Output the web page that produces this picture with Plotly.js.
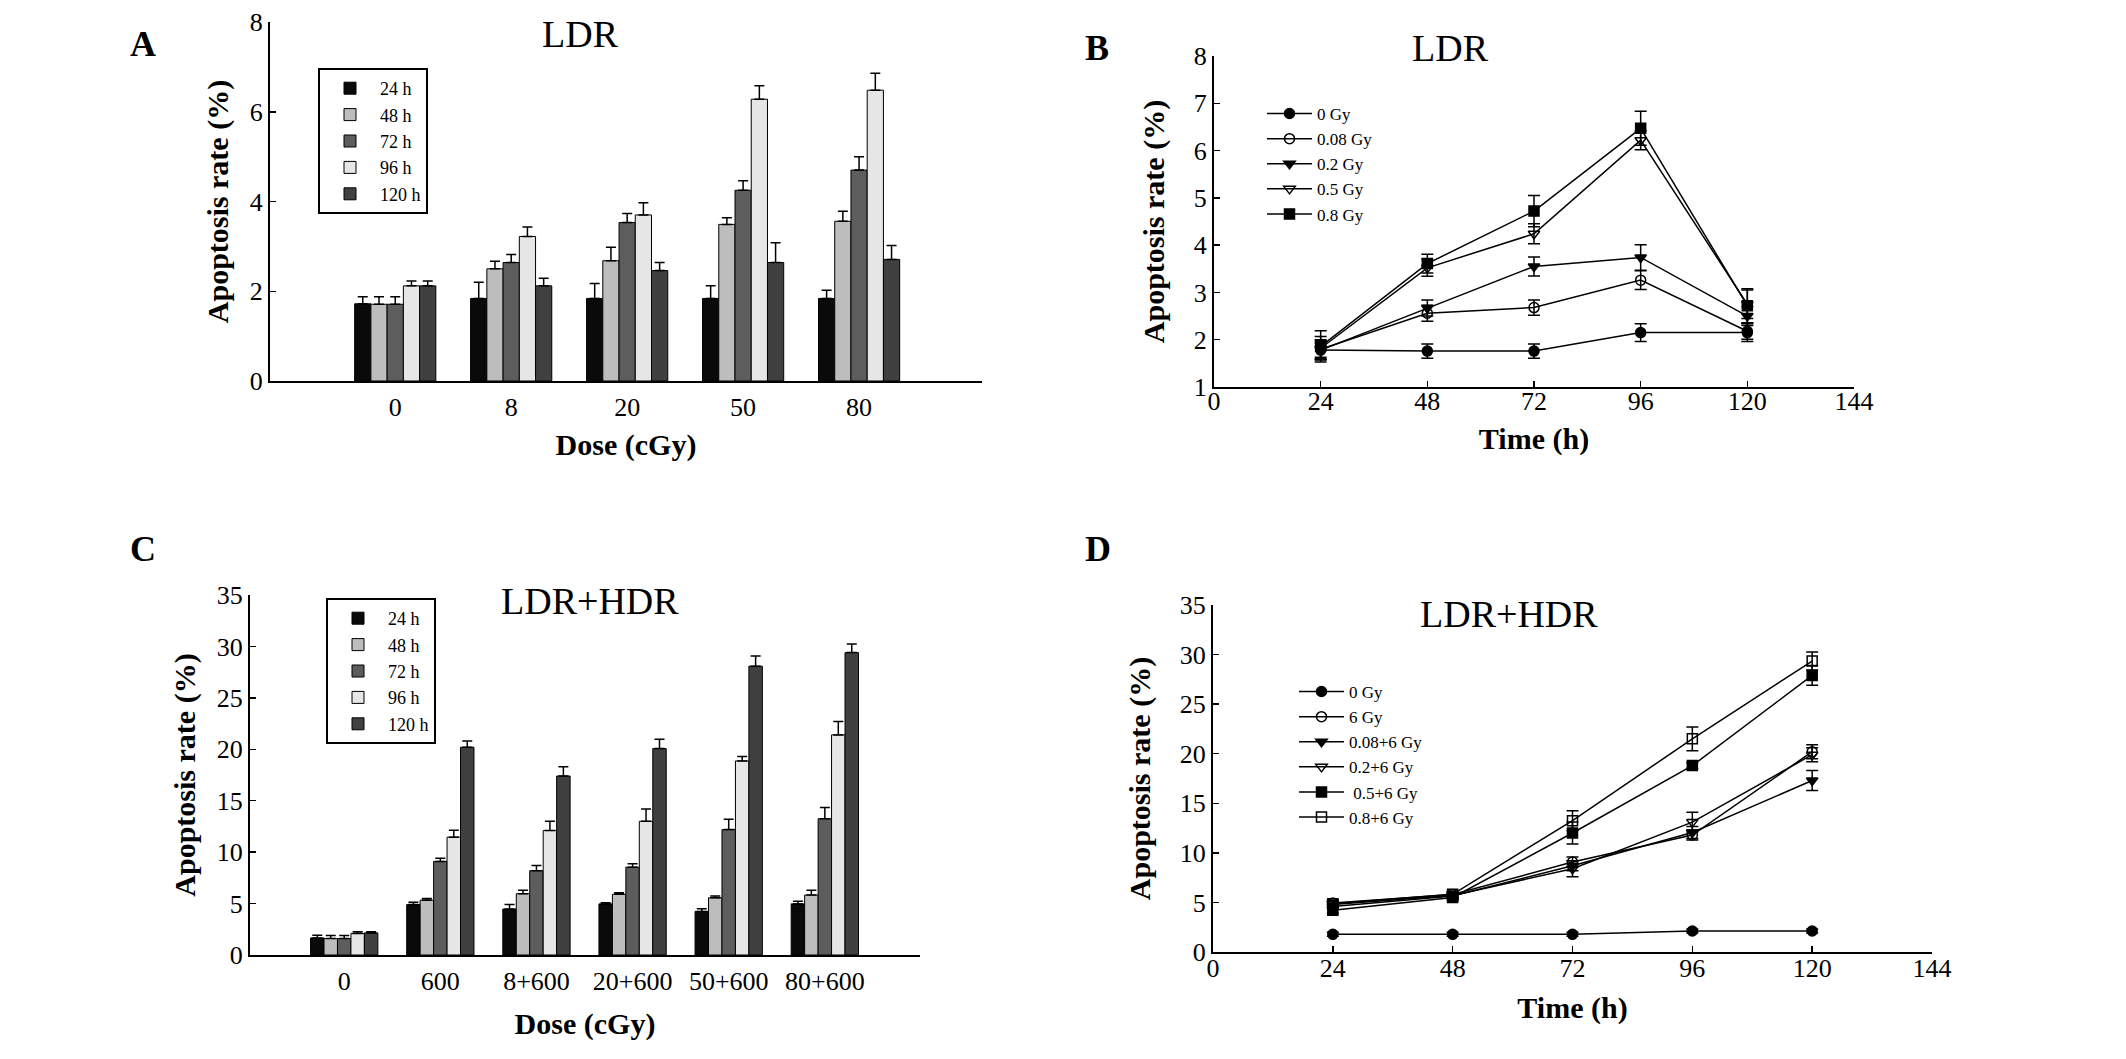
<!DOCTYPE html>
<html>
<head>
<meta charset="utf-8">
<script src="https://cdn.plot.ly/plotly-3.0.1.min.js"></script>
<style>
  html, body { margin: 0; padding: 0; background: #fff; }
  #chart { width: 2126px; height: 1059px; }
</style>
</head>
<body>
<div id="chart"></div>
<script>
// ---- data ----
const dosesA = ['0', '8', '20', '50', '80'];
const dosesC = ['0', '600', '8+600', '20+600', '50+600', '80+600'];
const hours = [24, 48, 72, 96, 120];
const timeNames = ['24 h', '48 h', '72 h', '96 h', '120 h'];

// panel A: apoptosis rate by dose, one array per time point
const a24 = [1.72, 1.84, 1.84, 1.84, 1.84];
const a48 = [1.71, 2.50, 2.68, 3.49, 3.56];
const a72 = [1.71, 2.64, 3.53, 4.25, 4.70];
const a96 = [2.12, 3.22, 3.70, 6.28, 6.48];
const a120 = [2.12, 2.12, 2.46, 2.64, 2.71];
const a24Err = [0.16, 0.36, 0.33, 0.28, 0.18];
const a48Err = [0.17, 0.17, 0.30, 0.15, 0.22];
const a72Err = [0.17, 0.18, 0.20, 0.21, 0.30];
const a96Err = [0.11, 0.21, 0.27, 0.30, 0.38];
const a120Err = [0.11, 0.17, 0.18, 0.44, 0.31];

// panel C
const c24 = [1.66, 4.90, 4.47, 4.97, 4.24, 4.97];
const c48 = [1.60, 5.33, 5.96, 5.90, 5.56, 5.83];
const c72 = [1.60, 9.10, 8.20, 8.54, 12.19, 13.25];
const c96 = [2.10, 11.46, 12.10, 13.00, 18.87, 21.40];
const c120 = [2.15, 20.20, 17.40, 20.07, 28.08, 29.40];
const c24Err = [0.26, 0.23, 0.43, 0.10, 0.26, 0.26];
const c48Err = [0.30, 0.17, 0.33, 0.16, 0.17, 0.46];
const c72Err = [0.30, 0.30, 0.50, 0.33, 1.00, 1.10];
const c96Err = [0.15, 0.66, 0.90, 1.20, 0.43, 1.30];
const c120Err = [0.10, 0.60, 0.90, 0.90, 1.00, 0.83];

// panel B: apoptosis rate over time, one array per dose
const bNames = ['0 Gy', '0.08 Gy', '0.2 Gy', '0.5 Gy', '0.8 Gy'];
const b0 = [1.78, 1.76, 1.76, 2.15, 2.15];
const b008 = [1.80, 2.56, 2.68, 3.26, 2.18];
const b02 = [1.78, 2.67, 3.55, 3.74, 2.50];
const b05 = [1.82, 3.52, 4.24, 6.22, 2.75];
const b08 = [1.86, 3.61, 4.72, 6.47, 2.72];
const b0Err = [0.15, 0.15, 0.15, 0.19, 0.19];
const b008Err = [0.20, 0.17, 0.16, 0.20, 0.17];
const b02Err = [0.20, 0.17, 0.20, 0.27, 0.20];
const b05Err = [0.25, 0.18, 0.21, 0.20, 0.30];
const b08Err = [0.33, 0.20, 0.33, 0.36, 0.36];

// panel D
const dNames = ['0 Gy', '6 Gy', '0.08+6 Gy', '0.2+6 Gy', ' 0.5+6 Gy', '0.8+6 Gy'];
const d0 = [1.78, 1.78, 1.78, 2.12, 2.12];
const d6 = [4.95, 5.80, 9.07, 11.80, 20.20];
const d008 = [4.60, 5.65, 8.70, 12.05, 17.30];
const d02 = [4.80, 5.70, 8.40, 13.10, 19.90];
const d05 = [4.20, 5.50, 12.00, 18.80, 27.90];
const d08 = [4.86, 5.82, 13.25, 21.50, 29.35];
const d0Err = [0.20, 0.20, 0.20, 0.20, 0.20];
const d6Err = [0.30, 0.30, 0.50, 0.50, 0.70];
const d008Err = [0.30, 0.30, 0.50, 0.60, 1.00];
const d02Err = [0.30, 0.30, 0.80, 1.00, 0.70];
const d05Err = [0.30, 0.30, 1.10, 0.30, 1.00];
const d08Err = [0.30, 0.30, 1.00, 1.20, 0.90];

// ---- styling ----
const W = 2126, H = 1059;
const SERIF = 'Liberation Serif, Times New Roman, serif';
const barColors = ['#0a0a0a', '#bdbdbd', '#5d5d5d', '#e6e6e6', '#404040'];

// pixel -> paper helpers
const px = x => x / W;
const py = y => 1 - y / H;

function barTraces(cats, series, errs, xa, ya, legend) {
    return series.map((vals, i) => ({
        type: 'bar',
        x: cats,
        y: vals,
        name: timeNames[i],
        xaxis: xa, yaxis: ya,
        legend: legend,
        marker: { color: barColors[i], line: { color: '#000', width: 1 } },
        error_y: {
            type: 'data', symmetric: false,
            array: errs[i], arrayminus: vals.map(() => 0),
            color: '#000', thickness: 1.5, width: 5
        }
    }));
}

const symbols = ['circle', 'circle-open', 'triangle-down', 'triangle-down-open', 'square', 'square-open'];

function lineTraces(names, series, errs, xa, ya, legend) {
    return series.map((vals, i) => ({
        type: 'scatter',
        mode: 'lines+markers',
        x: hours,
        y: vals,
        name: names[i],
        xaxis: xa, yaxis: ya,
        legend: legend,
        line: { color: '#000', width: 1.5 },
        marker: {
            symbol: symbols[i],
            color: '#000', size: 10,
            line: { color: '#000', width: 1.5 }
        },
        error_y: { type: 'data', array: errs[i], color: '#000', thickness: 1.5, width: 6 }
    }));
}

const traces = [
    ...barTraces(dosesA, [a24, a48, a72, a96, a120],
        [a24Err, a48Err, a72Err, a96Err, a120Err], 'x', 'y', 'legend'),
    ...lineTraces(bNames, [b0, b008, b02, b05, b08],
        [b0Err, b008Err, b02Err, b05Err, b08Err], 'x2', 'y2', 'legend2'),
    ...barTraces(dosesC, [c24, c48, c72, c96, c120],
        [c24Err, c48Err, c72Err, c96Err, c120Err], 'x3', 'y3', 'legend3'),
    ...lineTraces(dNames, [d0, d6, d008, d02, d05, d08],
        [d0Err, d6Err, d008Err, d02Err, d05Err, d08Err], 'x4', 'y4', 'legend4')
];

const axBase = {
    showline: true, linecolor: '#000', linewidth: 2,
    showgrid: false, zeroline: false,
    tickfont: { family: SERIF, size: 26, color: '#000' },
    ticklen: 6, tickwidth: 1.5, tickcolor: '#000'
};
const axTitleFont = { family: SERIF, size: 30, color: '#000', weight: 'bold' };
const yTitle = standoff => ({ text: 'Apoptosis rate (%)', font: axTitleFont, standoff: standoff });

const legFont = size => ({ family: SERIF, size: size, color: '#000' });
const legBase = {
    bgcolor: '#fff',
    xanchor: 'left', yanchor: 'top',
    tracegroupgap: 0
};

function note(t, x, y, size, bold) {
    return { text: t, x: px(x), y: py(y), xref: 'paper', yref: 'paper', showarrow: false,
        xanchor: 'center', yanchor: 'middle',
        font: { family: SERIF, size: size, color: '#000', weight: bold ? 'bold' : 'normal' } };
}

const layout = {
    width: W, height: H,
    margin: { l: 0, r: 0, t: 0, b: 0 },
    paper_bgcolor: '#fff', plot_bgcolor: '#fff',
    barmode: 'group', bargap: 0.3, bargroupgap: 0,
    font: { family: SERIF, color: '#000' },

    // A
    xaxis: { ...axBase, domain: [px(270), px(982)], anchor: 'y', type: 'category',
        range: [-1.08, 5.06], ticks: '', ticklabelstandoff: 2,
        title: { text: 'Dose (cGy)', font: axTitleFont, standoff: 13 } },
    yaxis: { ...axBase, domain: [py(381), py(22)], anchor: 'x', range: [0, 8], dtick: 2,
        ticks: 'inside', title: yTitle(12) },

    // B
    xaxis2: { ...axBase, domain: [px(1214), px(1854)], anchor: 'y2', range: [0, 144], dtick: 24,
        ticks: 'inside', ticklabelstandoff: -10,
        title: { text: 'Time (h)', font: axTitleFont, standoff: 13 } },
    yaxis2: { ...axBase, domain: [py(387), py(56)], anchor: 'x2', range: [1, 8], dtick: 1,
        ticks: 'inside', title: yTitle(20) },

    // C
    xaxis3: { ...axBase, domain: [px(250), px(920)], anchor: 'y3', type: 'category',
        range: [-0.98, 5.99], ticks: '', ticklabelstandoff: 2,
        title: { text: 'Dose (cGy)', font: axTitleFont, standoff: 18 } },
    yaxis3: { ...axBase, domain: [py(955), py(595)], anchor: 'x3', range: [0, 35], dtick: 5,
        ticks: 'inside', title: yTitle(12) },

    // D
    xaxis4: { ...axBase, domain: [px(1213), px(1932)], anchor: 'y4', range: [0, 144], dtick: 24,
        ticks: 'inside', ticklabelstandoff: -8,
        title: { text: 'Time (h)', font: axTitleFont, standoff: 15 } },
    yaxis4: { ...axBase, domain: [py(952), py(605)], anchor: 'x4', range: [0, 35], dtick: 5,
        ticks: 'inside', title: yTitle(20) },

    legend: { ...legBase, x: px(318), y: py(68), bordercolor: '#000', borderwidth: 2,
        itemwidth: 50, font: legFont(18) },
    legend2: { ...legBase, x: px(1262), y: py(96), borderwidth: 0, itemwidth: 45, font: legFont(17) },
    legend3: { ...legBase, x: px(326), y: py(598), bordercolor: '#000', borderwidth: 2,
        itemwidth: 50, font: legFont(18) },
    legend4: { ...legBase, x: px(1294), y: py(674), borderwidth: 0, itemwidth: 45, font: legFont(17) },

    annotations: [
        note('A', 143, 44, 36, true), note('LDR', 580, 34, 38, false),
        note('B', 1097, 48, 36, true), note('LDR', 1450, 48, 38, false),
        note('C', 143, 549, 36, true), note('LDR+HDR', 590, 601, 38, false),
        note('D', 1098, 549, 36, true), note('LDR+HDR', 1509, 614, 38, false)
    ],
    showlegend: true
};

Plotly.newPlot('chart', traces, layout, { displayModeBar: false, staticPlot: true });
</script>
</body>
</html>
